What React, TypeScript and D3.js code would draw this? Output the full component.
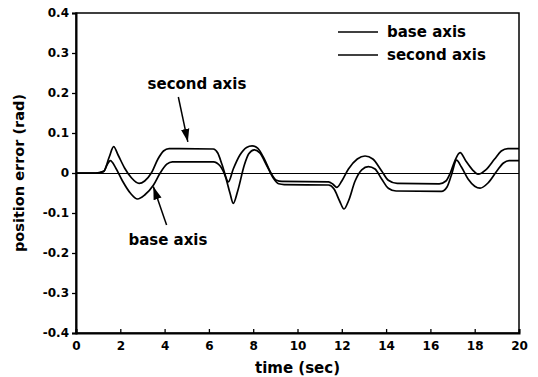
import { useEffect, useRef } from "react";
import * as d3 from "d3";

// time samples (sec) and position error (rad)
const secondTime = [0, 0.9, 1.25, 1.5, 1.7, 1.9, 2.2, 2.5, 2.85, 3.1, 3.4, 3.7, 3.95, 4.2, 6.2, 6.4, 6.6, 6.88, 7.1, 7.4, 7.7, 7.95, 8.2, 8.5, 8.8, 9.05, 9.3, 11.4, 11.6, 11.77, 12.0, 12.3, 12.7, 13.05, 13.4, 13.8, 14.1, 14.5, 16.4, 16.7, 16.9, 17.1, 17.34, 17.6, 17.9, 18.15, 18.5, 18.9, 19.2, 19.5, 20];
const secondErr = [0, 0, 0.004, 0.04, 0.066, 0.045, 0.012, -0.012, -0.026, -0.02, 0.0, 0.035, 0.055, 0.061, 0.06, 0.05, 0.02, -0.022, 0.01, 0.045, 0.064, 0.068, 0.062, 0.035, 0.0, -0.018, -0.021, -0.022, -0.028, -0.036, -0.02, 0.01, 0.035, 0.0425, 0.035, 0.005, -0.018, -0.026, -0.027, -0.02, 0.0, 0.03, 0.051, 0.03, 0.008, -0.003, 0.008, 0.035, 0.055, 0.061, 0.061];

const baseTime = [0, 0.9, 1.25, 1.4, 1.55, 1.8, 2.1, 2.45, 2.78, 3.1, 3.5, 3.8, 4.1, 4.35, 6.2, 6.5, 6.75, 6.95, 7.1, 7.3, 7.6, 7.8, 8.05, 8.3, 8.6, 8.9, 9.15, 9.4, 11.4, 11.65, 11.9, 12.1, 12.3, 12.6, 12.9, 13.2, 13.5, 13.8, 14.1, 14.45, 16.5, 16.75, 16.95, 17.18, 17.4, 17.7, 18.0, 18.24, 18.6, 19.0, 19.3, 19.55, 20];
const baseErr = [0, 0, 0.004, 0.02, 0.031, 0.012, -0.02, -0.05, -0.065, -0.055, -0.03, 0.0, 0.022, 0.028, 0.028, 0.018, -0.01, -0.05, -0.076, -0.045, 0.02, 0.048, 0.058, 0.05, 0.02, -0.012, -0.027, -0.029, -0.03, -0.04, -0.07, -0.09, -0.07, -0.02, 0.008, 0.016, 0.01, -0.015, -0.038, -0.045, -0.046, -0.035, -0.005, 0.032, 0.015, -0.015, -0.033, -0.038, -0.025, 0.005, 0.025, 0.031, 0.031];

const xTicks = [0, 2, 4, 6, 8, 10, 12, 14, 16, 18, 20];
const yTicks = [0.4, 0.3, 0.2, 0.1, 0, -0.1, -0.2, -0.3, -0.4];
const yTickLabels = ["0.4", "0.3", "0.2", "0.1", "0", "-0.1", "-0.2", "-0.3", "-0.4"];
const seriesNames = ["base axis", "second axis"];

const FONT = "'DejaVu Sans', sans-serif";

const App = () => {
  const svgRef = useRef<SVGSVGElement>(null);

  useEffect(() => {
    const margin = { top: 13, right: 19, bottom: 44, left: 76 };
    const W = 538;
    const H = 377;
    const width = W - margin.left - margin.right;
    const height = H - margin.top - margin.bottom;

    const root = d3.select(svgRef.current);
    root.selectAll("*").remove();
    root.attr("width", W).attr("height", H);

    root
      .append("defs")
      .append("marker")
      .attr("id", "arrow")
      .attr("viewBox", "0 0 10 10")
      .attr("refX", 10)
      .attr("refY", 5)
      .attr("markerWidth", 13)
      .attr("markerHeight", 13)
      .attr("markerUnits", "userSpaceOnUse")
      .attr("orient", "auto")
      .append("path")
      .attr("d", "M0,1.8 L10,5 L0,8.2 Z")
      .attr("fill", "#000");

    const svg = root.append("g").attr("transform", `translate(${margin.left},${margin.top})`);

    const x = d3.scaleLinear().domain([0, 20]).range([0, width]);
    const y = d3.scaleLinear().domain([-0.4, 0.4]).range([height, 0]);

    // frame
    svg
      .append("rect")
      .attr("width", width)
      .attr("height", height)
      .attr("fill", "none")
      .attr("stroke", "#000")
      .attr("stroke-width", 1.5);

    // zero line
    svg
      .append("line")
      .attr("x1", 0)
      .attr("x2", width)
      .attr("y1", y(0) + 0.5)
      .attr("y2", y(0) + 0.5)
      .attr("stroke", "#000")
      .attr("stroke-width", 1);

    const xAxis = svg
      .append("g")
      .attr("transform", `translate(0,${height})`)
      .call(d3.axisBottom(x).tickValues(xTicks).tickSize(-4).tickPadding(8).tickFormat(d3.format("d")));
    xAxis.select(".domain").attr("stroke-width", 2);

    const yAxis = svg
      .append("g")
      .call(
        d3
          .axisLeft(y)
          .tickValues(yTicks)
          .tickSize(4)
          .tickPadding(3)
          .tickFormat((_, i) => yTickLabels[i])
      );
    yAxis.select(".domain").attr("stroke-width", 2);

    svg
      .selectAll(".tick text")
      .attr("font-family", FONT)
      .attr("font-weight", "bold")
      .attr("font-size", 12)
      .attr("fill", "#000");
    svg.selectAll(".tick line").attr("stroke-width", 1.3);

    const line = d3
      .line<[number, number]>()
      .x((d) => x(d[0]))
      .y((d) => y(d[1]))
      .curve(d3.curveMonotoneX);

    const series = [
      baseTime.map((t, i) => [t, baseErr[i]] as [number, number]),
      secondTime.map((t, i) => [t, secondErr[i]] as [number, number]),
    ];

    svg
      .selectAll(".series")
      .data(series)
      .enter()
      .append("path")
      .attr("class", "series")
      .attr("d", (d) => line(d))
      .attr("fill", "none")
      .attr("stroke", "#000")
      .attr("stroke-width", 1.7);

    // annotations
    const text = (g: any) =>
      g.attr("font-family", FONT).attr("font-weight", "bold").attr("font-size", 15).attr("fill", "#000");

    svg.append("text").attr("x", x(5.46)).attr("y", y(0.21)).attr("text-anchor", "middle").text("second axis").call(text);
    svg
      .append("line")
      .attr("x1", x(4.62))
      .attr("y1", y(0.19))
      .attr("x2", x(5.05))
      .attr("y2", y(0.078))
      .attr("stroke", "#000")
      .attr("stroke-width", 1.5)
      .attr("marker-end", "url(#arrow)");

    svg.append("text").attr("x", x(4.15)).attr("y", y(-0.18)).attr("text-anchor", "middle").text("base axis").call(text);
    svg
      .append("line")
      .attr("x1", x(4.09))
      .attr("y1", y(-0.13))
      .attr("x2", x(3.49))
      .attr("y2", y(-0.034))
      .attr("stroke", "#000")
      .attr("stroke-width", 1.5)
      .attr("marker-end", "url(#arrow)");

    // legend
    const legend = svg.append("g").attr("transform", `translate(${338 - margin.left},${32 - margin.top})`);
    seriesNames.forEach((name, i) => {
      legend
        .append("line")
        .attr("x1", 0)
        .attr("x2", 40)
        .attr("y1", i * 23)
        .attr("y2", i * 23)
        .attr("stroke", "#000")
        .attr("stroke-width", 1.7);
      legend
        .append("text")
        .attr("x", 49)
        .attr("y", i * 23 + 5)
        .text(name)
        .call(text);
    });

    // axis titles
    svg
      .append("text")
      .attr("x", width / 2)
      .attr("y", height + 40)
      .attr("text-anchor", "middle")
      .text("time (sec)")
      .call(text);

    svg
      .append("text")
      .attr("transform", `translate(${-52},${height / 2}) rotate(-90)`)
      .attr("text-anchor", "middle")
      .text("position error (rad)")
      .call(text)
      .attr("font-size", 14.5);
  }, []);

  return (
    <div style={{ position: "absolute", left: 0, top: 0, background: "#fff" }}>
      <svg ref={svgRef} style={{ display: "block" }}></svg>
    </div>
  );
};

export default App;
